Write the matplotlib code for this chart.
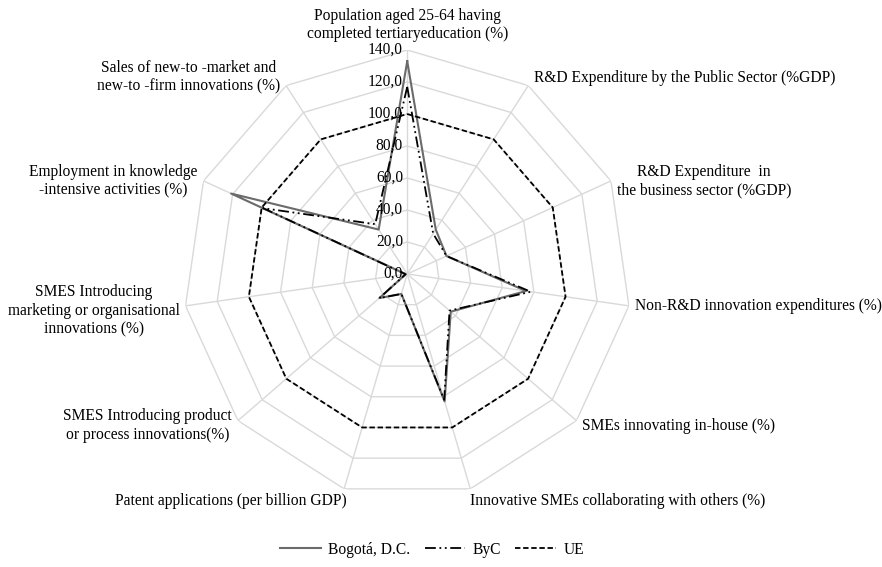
import numpy as np
import matplotlib.pyplot as plt
from matplotlib.transforms import offset_copy

plt.rcParams['font.family'] = ['Liberation Serif', 'DejaVu Serif']

# Datos
categorias = [
    'Population aged 25-64 having\ncompleted tertiaryeducation (%)',
    'R&D Expenditure by the Public Sector (%GDP)',
    'R&D Expenditure  in\nthe business sector (%GDP)',
    'Non-R&D innovation expenditures (%)',
    'SMEs innovating in-house (%)',
    'Innovative SMEs collaborating with others (%)',
    'Patent applications (per billion GDP)',
    'SMES Introducing product\nor process innovations(%)',
    'SMES Introducing\nmarketing or organisational\ninnovations (%)',
    'Employment in knowledge\n-intensive activities (%)',
    'Sales of new-to -market and\nnew-to -firm innovations (%)',
]
bogota = [133, 33, 27, 75, 36, 83, 13, 23, 1, 121, 33]
byc = [117, 30, 27, 78, 35, 82, 13, 23, 1, 99, 37]
ue = [100] * 11
ticks = [0, 20, 40, 60, 80, 100, 120, 140]

n = len(categorias)
ang = np.linspace(0, 2 * np.pi, n, endpoint=False)
ang_c = np.append(ang, ang[0])

fig = plt.figure(figsize=(8.82, 5.67), dpi=100)
ax = fig.add_axes([0.2077, 0.1218, 0.508, 0.790], projection='polar')
ax.set_theta_offset(np.pi / 2)
ax.set_theta_direction(-1)
ax.set_ylim(0, 140)
ax.grid(False)
ax.spines['polar'].set_visible(False)
ax.set_xticks([])
ax.set_yticks([])

# rejilla poligonal
gris = '#d9d9d9'
for t in ticks[1:]:
    ax.plot(ang_c, [t] * (n + 1), color=gris, lw=1, zorder=1)
for a in ang:
    ax.plot([a, a], [0, 140], color=gris, lw=1, zorder=1)

# etiquetas radiales
tr = offset_copy(ax.transData, fig=fig, x=-3, y=0, units='points')
for t in ticks:
    ax.text(0, t, f'{t:.1f}'.replace('.', ','), transform=tr,
            ha='right', va='center', fontsize=11.2, zorder=5)

# series
ax.plot(ang_c, bogota + bogota[:1], color='#6b6b6b', lw=1.5,
        label='Bogotá, D.C.', zorder=3)
ax.plot(ang_c, byc + byc[:1], color='black', lw=1.3,
        linestyle=(0, (6, 2, 1, 2, 1, 2)), label='ByC', zorder=4)
ax.plot(ang_c, ue + ue[:1], color='black', lw=1.3,
        linestyle=(0, (3, 1.5)), label='UE', zorder=4)

# etiquetas de categorías, junto a cada vértice exterior
for a, lab in zip(ang, categorias):
    s, c = np.sin(a), np.cos(a)
    if abs(s) < 0.1:
        ha, va, dx, dy = 'center', 'bottom', 0, 8
    elif c < -0.9:
        ha, va = ('left' if s > 0 else 'right'), 'top'
        dx, dy = (0 if s > 0 else 3), -4
    else:
        ha, va = ('left' if s > 0 else 'right'), 'center'
        dx = 6 if s > 0 else -6
        if c > 0.5:
            dy = 8
        elif c < -0.5:
            dy = -5
        elif s < 0 and c < 0:
            dy = -5
        else:
            dy = 0
    trl = offset_copy(ax.transData, fig=fig, x=dx, y=dy, units='dots')
    ax.text(a, 140, lab, transform=trl, ha=ha, va=va, fontsize=11.2,
            multialignment='center')

fig.legend(loc='lower center', bbox_to_anchor=(0.49, -0.008), ncol=3,
           frameon=False, fontsize=11.2, handlelength=2.6, columnspacing=0.9,
           handletextpad=0.5)

fig.savefig('out.png', dpi=100)
